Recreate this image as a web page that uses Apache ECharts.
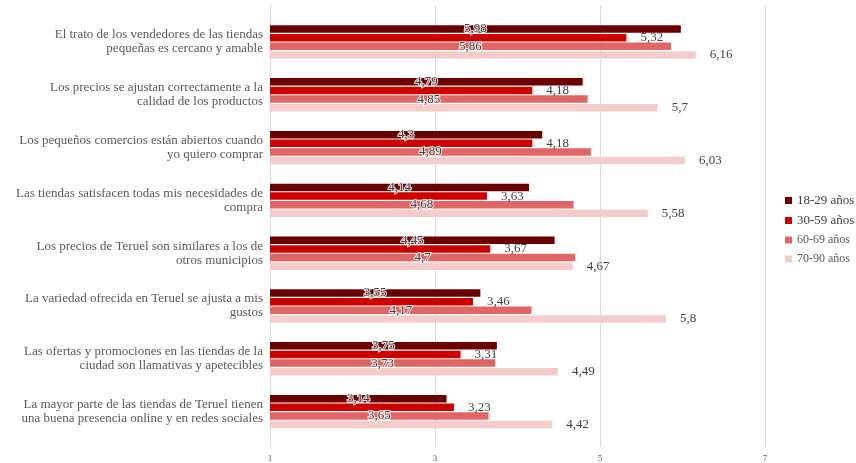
<!DOCTYPE html>
<html>
<head>
<meta charset="utf-8">
<script src="https://cdn.jsdelivr.net/npm/echarts@6/dist/echarts.min.js"></script>
<style>
  html, body { margin: 0; padding: 0; background: #fff; }
  #chart { width: 856px; height: 463px; }
</style>
</head>
<body>
<div id="chart"></div>
<script>
// Survey statements (top to bottom)
const categories = [
  'El trato de los vendedores de las tiendas\npequeñas es cercano y amable',
  'Los precios se ajustan correctamente a la\ncalidad de los productos',
  'Los pequeños comercios están abiertos cuando\nyo quiero comprar',
  'Las tiendas satisfacen todas mis necesidades de\ncompra',
  'Los precios de Teruel son similares a los de\notros municipios',
  'La variedad ofrecida en Teruel se ajusta a mis\ngustos',
  'Las ofertas y promociones en las tiendas de la\nciudad son llamativas y apetecibles',
  'La mayor parte de las tiendas de Teruel tienen\nuna buena presencia online y en redes sociales'
];

// Mean scores per age group
const age18_29 = [5.98, 4.79, 4.3, 4.14, 4.45, 3.55, 3.75, 3.14];
const age30_59 = [5.32, 4.18, 4.18, 3.63, 3.67, 3.46, 3.31, 3.23];
const age60_69 = [5.86, 4.85, 4.89, 4.68, 4.7, 4.17, 3.73, 3.65];
const age70_90 = [6.16, 5.7, 6.03, 5.58, 4.67, 5.8, 4.49, 4.42];

const seriesNames = ['18-29 años', '30-59 años', '60-69 años', '70-90 años'];
const xTicks = [1, 3, 5, 7];

const colors = ['#6b0000', '#cc0000', '#e06666', '#f4cccc'];
const serif = 'Liberation Serif';

const fmt = p => String(p.value).replace('.', ',');

const centerLabel = {
  show: true,
  position: 'inside',
  fontFamily: serif,
  fontSize: 13,
  color: '#404040',
  textBorderColor: 'rgba(255,255,255,0.85)',
  textBorderWidth: 2,
  formatter: fmt
};
const rightLabel = {
  show: true,
  position: 'right',
  distance: 14,
  fontFamily: serif,
  fontSize: 13,
  color: '#404040',
  formatter: fmt
};

const dataSets = [age18_29, age30_59, age60_69, age70_90];
const labels = [centerLabel, rightLabel, centerLabel, rightLabel];

const chart = echarts.init(document.getElementById('chart'), null, { renderer: 'canvas' });

chart.setOption({
  animation: false,
  backgroundColor: '#ffffff',
  color: colors,
  legend: {
    orient: 'vertical',
    left: 780,
    top: 189,
    itemWidth: 7,
    itemHeight: 7,
    itemGap: 7,
    icon: 'rect',
    textStyle: { fontFamily: serif, fontSize: 13, color: '#404040' },
    data: [
      { name: seriesNames[0] },
      { name: seriesNames[1] },
      { name: seriesNames[2], textStyle: { fontSize: 12, color: '#595959' } },
      { name: seriesNames[3], textStyle: { fontSize: 12, color: '#595959' } }
    ]
  },
  grid: [
    // grid carrying the value gridlines and tick labels
    { left: 270, right: 91, top: 5, bottom: 16 },
    // grid carrying the bars and statement labels
    { left: 270, right: 91, top: 15.6, bottom: 25 }
  ],
  xAxis: [
    {
      gridIndex: 0,
      type: 'value',
      min: xTicks[0],
      max: xTicks[xTicks.length - 1],
      interval: 2,
      axisLine: { show: false },
      axisTick: { show: false },
      splitLine: { show: true, lineStyle: { color: '#d9d9d9', width: 1 } },
      axisLabel: { fontFamily: serif, fontSize: 9, color: '#595959', margin: 7 }
    },
    {
      gridIndex: 1,
      type: 'value',
      min: xTicks[0],
      max: xTicks[xTicks.length - 1],
      interval: 2,
      show: false,
      splitLine: { show: false }
    }
  ],
  yAxis: [
    { gridIndex: 0, type: 'value', show: false },
    {
      gridIndex: 1,
      type: 'category',
      inverse: true,
      data: categories,
      axisLine: { show: false },
      axisTick: { show: false },
      axisLabel: {
        fontFamily: serif,
        fontSize: 13,
        lineHeight: 14,
        color: '#595959',
        margin: 7,
        align: 'right'
      }
    }
  ],
  series: dataSets.map((d, i) => ({
    name: seriesNames[i],
    type: 'bar',
    xAxisIndex: 1,
    yAxisIndex: 1,
    data: d,
    barWidth: 7.5,
    barGap: '15%',
    label: labels[i],
    itemStyle: { color: colors[i] }
  }))
});
</script>
</body>
</html>
